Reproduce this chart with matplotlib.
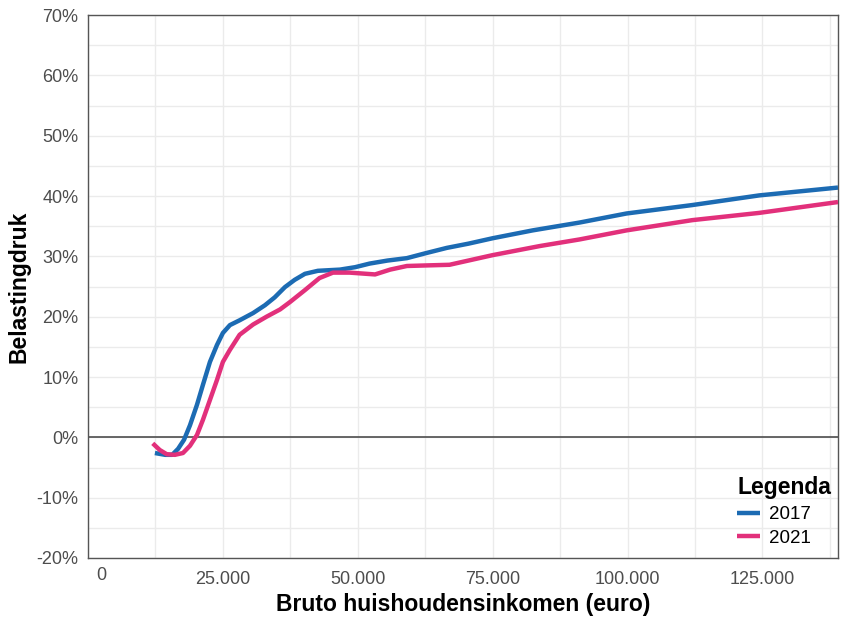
import matplotlib

matplotlib.use("Agg")

import matplotlib.pyplot as plt
import matplotlib.transforms as mtransforms
from matplotlib.ticker import FuncFormatter, MultipleLocator

plt.rcParams["font.family"] = ["Liberation Sans", "DejaVu Sans"]

# income (euro) vs tax burden (%)
income_2017 = [12400, 14300, 15600, 16700, 17800, 18900, 20200, 21300, 22600, 23900,
               25000, 26300, 28100, 30600, 32800, 34600, 36500, 38300, 40200, 42600,
               46700, 49500, 52200, 55500, 59100, 62500, 66500, 70500, 75000, 82400,
               91100, 99800, 112000, 124400, 139000]
burden_2017 = [-2.6, -2.9, -2.9, -1.9, -0.4, 2.0, 5.4, 8.7, 12.5, 15.3,
               17.3, 18.6, 19.4, 20.6, 21.9, 23.2, 24.9, 26.1, 27.1, 27.6,
               27.8, 28.2, 28.8, 29.3, 29.7, 30.5, 31.4, 32.1, 33.0, 34.3,
               35.6, 37.1, 38.5, 40.1, 41.4]

income_2021 = [12000, 13300, 14600, 16100, 17600, 18900, 20200, 21300, 22600, 23900,
               25000, 26300, 28100, 30600, 33100, 35600, 37400, 40200, 42900, 45400,
               48500, 53200, 56000, 59100, 63000, 67000, 71000, 75000, 83700, 91100,
               99800, 112000, 124400, 139000]
burden_2021 = [-1.0, -2.1, -2.8, -2.9, -2.6, -1.4, 0.4, 2.9, 6.2, 9.5,
               12.5, 14.5, 17.0, 18.7, 20.0, 21.2, 22.4, 24.4, 26.4, 27.3,
               27.3, 27.0, 27.8, 28.4, 28.5, 28.6, 29.4, 30.2, 31.7, 32.8,
               34.3, 36.0, 37.2, 39.0]

series = [("2017", income_2017, burden_2017, "#1c6bb3"),
          ("2021", income_2021, burden_2021, "#e2307b")]

fig = plt.figure(figsize=(8.46, 6.18), dpi=100)
fig.subplots_adjust(left=88 / 846, right=838 / 846, top=1 - 15 / 618, bottom=1 - 558 / 618)
ax = fig.add_subplot(111)

for label, x, y, color in series:
    ax.plot(x, y, color=color, linewidth=3.2, label=label, solid_capstyle="butt",
            solid_joinstyle="round", zorder=3)

ax.axhline(0, color="#4d4d4d", linewidth=1.2, zorder=2)

ax.set_xlim(0, 139000)
ax.set_ylim(-20, 70)
ax.xaxis.set_major_locator(MultipleLocator(25000))
ax.xaxis.set_minor_locator(MultipleLocator(12500))
ax.yaxis.set_major_locator(MultipleLocator(10))
ax.yaxis.set_minor_locator(MultipleLocator(5))
# "0" is drawn separately below, shifted right of its tick like in the original
ax.xaxis.set_major_formatter(FuncFormatter(
    lambda v, _: "" if v == 0 else f"{v:,.0f}".replace(",", ".")))
ax.yaxis.set_major_formatter(FuncFormatter(lambda v, _: f"{v:.0f}%"))

ax.grid(which="both", color="#ebebeb", linewidth=1.0, zorder=0)
ax.set_axisbelow(True)
ax.tick_params(which="both", length=0, labelsize=13, labelcolor="#4d4d4d")
ax.tick_params(axis="x", pad=9)
ax.tick_params(axis="y", pad=7)
for spine in ax.spines.values():
    spine.set_color("#555555")
    spine.set_linewidth(1.0)

zero_tf = ax.get_xaxis_transform() + mtransforms.ScaledTranslation(13 / 100, -9 / 100,
                                                                     fig.dpi_scale_trans)
ax.text(0, 0, "0", transform=zero_tf, ha="center", va="top", fontsize=13, color="#4d4d4d")

ax.set_xlabel("Bruto huishoudensinkomen (euro)", fontsize=16.5, fontweight="bold", labelpad=4)
ax.set_ylabel("Belastingdruk", fontsize=16.5, fontweight="bold", labelpad=4)

leg = ax.legend(title="Legenda", loc="lower right", bbox_to_anchor=(1.006, 0),
                frameon=False, fontsize=13.5, handlelength=1.2, handletextpad=0.5,
                labelspacing=0.35, borderaxespad=0.2, alignment="left")
leg.get_title().set_fontweight("bold")
leg.get_title().set_fontsize(16.5)

fig.savefig("out.png", dpi=100, facecolor="white")
